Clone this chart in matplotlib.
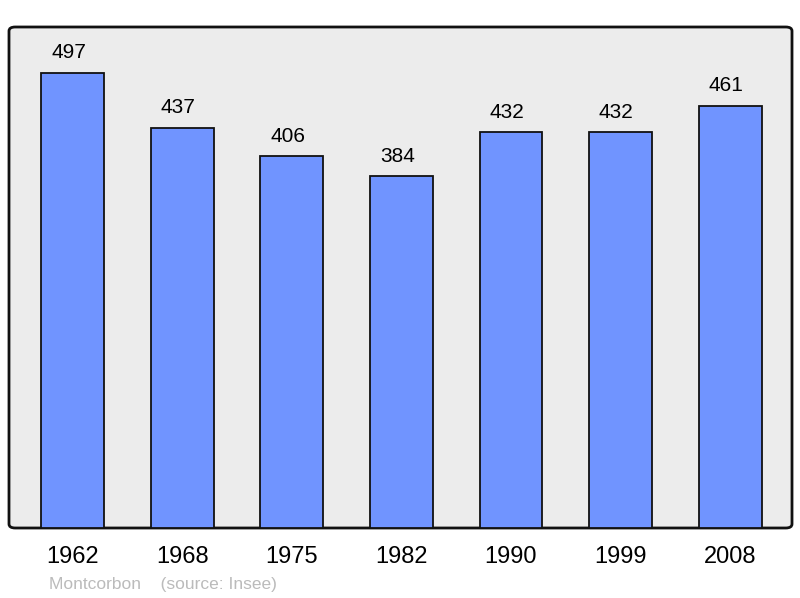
import matplotlib
matplotlib.use("Agg")
import matplotlib.pyplot as plt
from matplotlib.patches import FancyBboxPatch

years = ["1962", "1968", "1975", "1982", "1990", "1999", "2008"]
population = [497, 437, 406, 384, 432, 432, 461]
commune = "Montcorbon"
source = "(source: Insee)"

plt.rcParams['font.family'] = ['Liberation Sans', 'DejaVu Sans']

W, H = 800, 598
fig = plt.figure(figsize=(W/100, H/100), dpi=100)
ax = fig.add_axes([9/W, (H-528)/H, 783/W, 501/H])
ax.set_facecolor('none')

# background with rounded frame
bg = FancyBboxPatch((0, 0), 1, 1,
                    boxstyle="round,pad=0,rounding_size=0.008",
                    transform=ax.transAxes, facecolor='#ececec',
                    edgecolor='#111111', linewidth=2, zorder=0, clip_on=False)
ax.add_patch(bg)

x = list(range(len(years)))
ax.bar(x, population, width=0.575, color='#7094ff', edgecolor='#111111',
       linewidth=1.3, zorder=2)
for xi, v in zip(x, population):
    ax.annotate(str(v), (xi, v), xytext=(-3, 7.5), textcoords='offset points',
                ha='center', va='bottom', fontsize=15, color='#000000')

ax.set_xlim(-0.584, 6.566)
ax.set_ylim(0, 547)
for s in ax.spines.values():
    s.set_visible(False)
ax.set_yticks([])
ax.set_xticks(x)
ax.set_xticklabels(years, fontsize=17)
ax.tick_params(axis='x', length=0, pad=13)

fig.text(49/W, 1-584/H, commune + "    " + source, fontsize=12.5,
         color='#bbbbbb', ha='left', va='center')

fig.savefig("out.png", dpi=100)
